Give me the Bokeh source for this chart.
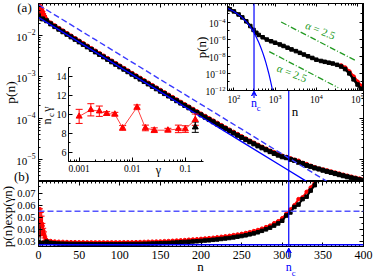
import math
from bokeh.plotting import figure
from bokeh.models import (Range1d, LinearAxis, LogAxis, SingleIntervalTicker, FixedTicker,
                          LogTicker, Span, Label, Arrow, VeeHead, Whisker, TeeHead,
                          ColumnDataSource, GridBox, PrintfTickFormatter, CustomJSTickFormatter)
from bokeh.embed import file_html
from bokeh.resources import INLINE

# ---------------- data ----------------
gamma = 0.0277          # decay rate of the fit
n_c = 308               # crossover size
plateau = 0.0275        # amplitude of the exponential fit

n_black = list(range(0, 401, 5))
pexp_black = [0.0295, 0.0290, 0.0300, 0.0290, 0.0286, 0.0284, 0.0283, 0.0282, 0.0281, 0.0281,
              0.0280, 0.0280, 0.0280, 0.0279, 0.0279, 0.0279, 0.0279, 0.0279, 0.0279, 0.0279,
              0.0279, 0.0280, 0.0280, 0.0280, 0.0281, 0.0281, 0.0282, 0.0283, 0.0284, 0.0285,
              0.0286, 0.0288, 0.0289, 0.0291, 0.0293, 0.0295, 0.0297, 0.0299, 0.0301, 0.0303,
              0.0306, 0.0309, 0.0311, 0.0315, 0.0318, 0.0322, 0.0326, 0.0330, 0.0335, 0.0341,
              0.0346, 0.0352, 0.0360, 0.0368, 0.0377, 0.0389, 0.0401, 0.0415, 0.0432, 0.0450,
              0.0472, 0.0515, 0.0540, 0.0585, 0.0605, 0.0650, 0.0670, 0.0720, 0.0765, 0.0830,
              0.0890, 0.0960, 0.1040, 0.1120, 0.1210, 0.1310, 0.1420, 0.1540, 0.1680, 0.1830,
              0.2000]

n_red = [1, 2, 3, 4, 5, 6, 7, 8, 9, 10] + list(range(15, 401, 5))
pexp_red = [0.0460, 0.0470, 0.0460, 0.0450, 0.0430, 0.0390, 0.0360, 0.0340, 0.0320, 0.0310,
            0.0305, 0.0301, 0.0299, 0.0298, 0.0297, 0.0296, 0.0296, 0.0295, 0.0295, 0.0294,
            0.0294, 0.0294, 0.0294, 0.0294, 0.0294, 0.0294, 0.0294, 0.0294, 0.0295, 0.0295,
            0.0295, 0.0296, 0.0297, 0.0298, 0.0299, 0.0300, 0.0301, 0.0302, 0.0304, 0.0305,
            0.0307, 0.0309, 0.0311, 0.0313, 0.0316, 0.0318, 0.0320, 0.0323, 0.0326, 0.0329,
            0.0332, 0.0336, 0.0340, 0.0344, 0.0348, 0.0354, 0.0359, 0.0364, 0.0371, 0.0378,
            0.0387, 0.0396, 0.0407, 0.0420, 0.0432, 0.0452, 0.0468, 0.0493, 0.0530, 0.0565,
            0.0600, 0.0650, 0.0665, 0.0710, 0.0745, 0.0790, 0.0840, 0.0920, 0.1000, 0.1080,
            0.1170, 0.1270, 0.1370, 0.1490, 0.1620, 0.1760, 0.1920, 0.2100]
err_red = [0.012, 0.010, 0.011, 0.009, 0.008, 0.006, 0.005, 0.004]   # first 8 red points
err_black_n = [2, 11]
err_black_c = [0.0360, 0.0297]
err_black = [0.0110, 0.0015]

fit_n = [0, 70, 100, 150, 200, 250, 300, 350, 400, 450, 500, 550, 600, 650, 700, 750, 800, 850, 900]
fit_p = [2.75e-2, 3.96e-3, 1.72e-3, 4.31e-4, 1.08e-4, 2.70e-5, 6.76e-6, 1.69e-6, 4.24e-7, 1.06e-7,
         2.65e-8, 6.65e-9, 1.66e-9, 4.2e-10, 1.04e-10, 2.6e-11, 6.5e-12, 1.64e-12, 4.1e-13]

ins_n = [70, 80, 100, 130, 160, 200, 250, 300, 350, 400, 500, 630, 800, 1000, 1300, 1600, 2000,
         2500, 3200, 4000, 5000, 6300, 8000, 10000, 13000, 16000, 20000, 25000, 32000, 40000,
         50000, 63000, 80000, 100000, 120000]
ins_logp = [-2.40, -2.52, -2.76, -3.12, -3.46, -3.92, -4.47, -4.93, -5.26, -5.51, -5.78, -6.05,
            -6.25, -6.42, -6.62, -6.80, -7.00, -7.20, -7.40, -7.60, -7.80, -8.00, -8.20, -8.40,
            -8.55, -8.65, -8.75, -8.85, -9.00, -9.20, -9.50, -10.0, -10.7, -11.3, -11.8]
ins_red_n = [40000, 50000, 63000, 80000, 100000, 125000]
ins_red_p = [7.9e-10, 4.5e-10, 1.6e-10, 4.0e-11, 1.0e-11, 3.2e-12]

alpha_up_n = [1.4e3, 9.5e4]
alpha_up_p = [1.0e-4, 2.7e-9]
alpha_lo_n = [7.2e2, 3.4e4]
alpha_lo_p = [3.5e-8, 2.1e-12]

gam = [0.001, 0.00166, 0.0024, 0.0033, 0.0047, 0.0066, 0.0123, 0.0177, 0.026, 0.047, 0.074, 0.1, 0.154]
ncg = [9.8, 10.5, 10.35, 10.1, 10.03, 8.57, 10.77, 8.57, 8.33, 8.33, 8.47, 8.45, 9.45]
ncg_err = [0.75, 0.65, 0.55, 0.2, 0.2, 0.25, 0.25, 0.3, 0.25, 0.2, 0.4, 0.35, 0.6]
gam_black = [0.154]
ncg_black = [8.65]
ncg_black_err = [0.55]

# ---------------- styling / layout constants ----------------
FONT = "Liberation Serif"
BLUE = "#0000ff"
DBLUE = "#3a3aff"
RED = "#ff0000"
GREEN = "#229a22"
W, H = 374, 278
X_L, X_R = 38, 363           # main frame left / right
Y_T, Y_M, Y_B = 3, 181, 246  # main top, panel split, bottom

blank = CustomJSTickFormatter(code="return ''")


def sty(ax, fs="11px", standoff=2, show=True, tin=4, tmin=2):
    ax.axis_line_color = "black"
    ax.axis_line_width = 1
    ax.major_tick_in = tin
    ax.major_tick_out = 0
    ax.minor_tick_in = tmin
    ax.minor_tick_out = 0
    ax.major_tick_line_color = "black"
    ax.minor_tick_line_color = "black"
    ax.major_label_text_font = FONT
    ax.major_label_text_color = "black"
    if show:
        ax.major_label_text_font_size = fs
        ax.major_label_standoff = standoff
    else:
        ax.formatter = blank
        ax.major_label_text_font_size = "0px"
        ax.major_label_standoff = 0


def fig(w, h, xr, yr, xt, yt, top, right, bottom, left, bg="white", border="white",
        outline="black", xloc="below", yloc="left"):
    p = figure(width=w, height=h, x_range=xr, y_range=yr, x_axis_type=xt, y_axis_type=yt,
               output_backend="svg", toolbar_location=None,
               x_axis_location=xloc, y_axis_location=yloc,
               min_border_top=top, min_border_right=right,
               min_border_bottom=bottom, min_border_left=left)
    p.frame_align = False
    p.xgrid.visible = False
    p.ygrid.visible = False
    p.background_fill_color = bg
    p.border_fill_color = border
    p.outline_line_color = outline
    p.outline_line_width = 1
    return p


black_p = [v * math.exp(-gamma * n) for n, v in zip(n_black, pexp_black)]
red_p = [v * math.exp(-gamma * n) for n, v in zip(n_red, pexp_red)]
dash_p = [2 * v for v in fit_p]

# ---------------- (a) main panel ----------------
p1 = fig(W, Y_M, Range1d(0, 400), Range1d(2.93e-6, 5.96e-2), "linear", "log",
         Y_T, W - X_R, 0, X_L, xloc=None)
p1.yaxis[0].ticker = LogTicker(num_minor_ticks=10)
sty(p1.yaxis[0], fs="11px", standoff=3)
ax = LinearAxis(ticker=SingleIntervalTicker(interval=50, num_minor_ticks=10))
sty(ax, show=False)
p1.add_layout(ax, "above")
ax = LogAxis(ticker=LogTicker(num_minor_ticks=10))
sty(ax, show=False)
p1.add_layout(ax, "right")

src_er = ColumnDataSource(dict(
    x=n_red[:8],
    lo=[(pexp_red[i] - err_red[i]) * math.exp(-gamma * n_red[i]) for i in range(8)],
    hi=[(pexp_red[i] + err_red[i]) * math.exp(-gamma * n_red[i]) for i in range(8)]))
p1.add_layout(Whisker(source=src_er, base="x", lower="lo", upper="hi", line_color=RED,
                      line_width=1, upper_head=TeeHead(size=4, line_color=RED),
                      lower_head=TeeHead(size=4, line_color=RED)))
src_eb = ColumnDataSource(dict(
    x=err_black_n,
    lo=[(c - e) * math.exp(-gamma * n) for n, c, e in zip(err_black_n, err_black_c, err_black)],
    hi=[(c + e) * math.exp(-gamma * n) for n, c, e in zip(err_black_n, err_black_c, err_black)]))
p1.add_layout(Whisker(source=src_eb, base="x", lower="lo", upper="hi", line_color="black",
                      line_width=1, upper_head=TeeHead(size=4, line_color="black"),
                      lower_head=TeeHead(size=4, line_color="black")))
p1.line(n_red, red_p, line_color=RED, line_width=3)
p1.scatter(n_red, red_p, marker="circle", size=4, color=RED)
p1.line(n_black, black_p, line_color="black", line_width=3)
p1.scatter(n_black, black_p, marker="square", size=4, color="black")
p1.line(fit_n, fit_p, line_color=BLUE, line_width=1.4)
p1.line(fit_n, dash_p, line_color=DBLUE, line_width=1.4, line_dash="6 3")
p1.add_layout(Span(location=n_c, dimension="height", line_color=BLUE, line_width=1.2))

# ---------------- (b) bottom panel ----------------
p2 = fig(W, H - Y_M, p1.x_range, Range1d(0.026, 0.0795), "linear", "linear",
         0, W - X_R, H - Y_B, X_L)
p2.xaxis[0].ticker = SingleIntervalTicker(interval=50, num_minor_ticks=10)
sty(p2.xaxis[0], fs="12px", standoff=4)
p2.yaxis[0].ticker = SingleIntervalTicker(interval=0.01, num_minor_ticks=2)
sty(p2.yaxis[0], fs="10.5px", standoff=3)
ax = LinearAxis(ticker=SingleIntervalTicker(interval=50, num_minor_ticks=10))
sty(ax, show=False)
p2.add_layout(ax, "above")
ax = LinearAxis(ticker=SingleIntervalTicker(interval=0.01, num_minor_ticks=2))
sty(ax, show=False)
p2.add_layout(ax, "right")

src_er2 = ColumnDataSource(dict(x=n_red[:8],
                                lo=[pexp_red[i] - err_red[i] for i in range(8)],
                                hi=[pexp_red[i] + err_red[i] for i in range(8)]))
p2.add_layout(Whisker(source=src_er2, base="x", lower="lo", upper="hi", line_color=RED,
                      line_width=1, upper_head=TeeHead(size=4, line_color=RED),
                      lower_head=TeeHead(size=4, line_color=RED)))
src_eb2 = ColumnDataSource(dict(x=err_black_n,
                                lo=[c - e for c, e in zip(err_black_c, err_black)],
                                hi=[c + e for c, e in zip(err_black_c, err_black)]))
p2.add_layout(Whisker(source=src_eb2, base="x", lower="lo", upper="hi", line_color="black",
                      line_width=1, upper_head=TeeHead(size=4, line_color="black"),
                      lower_head=TeeHead(size=4, line_color="black")))
p2.line(n_red, pexp_red, line_color=RED, line_width=2)
p2.scatter(n_red, pexp_red, marker="circle", size=3.5, color=RED)
p2.line(n_black, pexp_black, line_color="black", line_width=2)
p2.scatter(n_black, pexp_black, marker="square", size=3.5, color="black")
p2.add_layout(Span(location=plateau, dimension="width", line_color=BLUE, line_width=1.4))
p2.add_layout(Span(location=2 * plateau, dimension="width", line_color="#5555ff",
                   line_width=1.6, line_dash="6 3"))
p2.add_layout(Span(location=n_c, dimension="height", line_color=BLUE, line_width=1.2))

# ---------------- inset: p(n) log-log ----------------
I_L, I_R, I_T, I_B = 227, 362, 3, 90
p4 = fig(I_R + 2 - 195, 116, Range1d(70, 1.32e5), Range1d(1e-12, 1.45e-2), "log", "log",
         I_T, 2, 116 - I_B, I_L - 195, bg="white", border=None)
p4.xaxis[0].ticker = LogTicker(num_minor_ticks=10)
sty(p4.xaxis[0], fs="9.5px", standoff=3, tin=3, tmin=2)
p4.yaxis[0].ticker = FixedTicker(ticks=[1e-12, 1e-10, 1e-8, 1e-6, 1e-4],
                                 minor_ticks=[1e-11, 1e-9, 1e-7, 1e-5, 1e-3])
sty(p4.yaxis[0], fs="9.5px", standoff=2, tin=3, tmin=2)
ax = LogAxis(ticker=LogTicker(num_minor_ticks=10))
sty(ax, show=False, tin=3, tmin=2)
p4.add_layout(ax, "above")
ax = LogAxis(ticker=FixedTicker(ticks=[1e-12, 1e-10, 1e-8, 1e-6, 1e-4],
                                minor_ticks=[1e-11, 1e-9, 1e-7, 1e-5, 1e-3]))
sty(ax, show=False, tin=3, tmin=2)
p4.add_layout(ax, "right")

ins_p = [10 ** v for v in ins_logp]
p4.line(ins_red_n, ins_red_p, line_color=RED, line_width=3)
p4.scatter(ins_red_n, ins_red_p, marker="circle", size=4, color=RED)
p4.line(ins_n, ins_p, line_color="black", line_width=2.5)
p4.scatter(ins_n, ins_p, marker="square", size=3.5, color="black")
p4.line(fit_n[1:], fit_p[1:], line_color=BLUE, line_width=1.2)
p4.line(alpha_up_n, alpha_up_p, line_color=GREEN, line_width=1.3, line_dash="6 2 1 2")
p4.line(alpha_lo_n, alpha_lo_p, line_color=GREEN, line_width=1.3, line_dash="6 2 1 2")
p4.add_layout(Span(location=n_c, dimension="height", line_color=BLUE, line_width=1.2))
for lx, ly in [(10 ** 4.1, 10 ** -4.96), (10 ** 3.41, 10 ** -9.97)]:
    p4.add_layout(Label(x=lx, y=ly, text="\u03b1 = 2.5", angle=-0.38, text_font=FONT,
                        text_font_size="11px", text_color=GREEN, text_align="center",
                        text_baseline="middle"))

# ---------------- inset: n_c * gamma ----------------
p3 = fig(165, 117, Range1d(6.3e-4, 0.22), Range1d(5, 15), "log", "linear", 5, 2, 18, 28,
         bg=None, border=None, outline=None)
p3.xaxis[0].ticker = FixedTicker(ticks=[0.001, 0.01, 0.1],
                                 minor_ticks=[7e-4, 8e-4, 9e-4, 2e-3, 3e-3, 4e-3, 5e-3, 6e-3, 7e-3,
                                              8e-3, 9e-3, 2e-2, 3e-2, 4e-2, 5e-2, 6e-2, 7e-2,
                                              8e-2, 9e-2, 0.2])
p3.xaxis[0].formatter = PrintfTickFormatter(format="%g")
sty(p3.xaxis[0], fs="9.5px", standoff=3, tin=4, tmin=2)
p3.yaxis[0].ticker = SingleIntervalTicker(interval=2, num_minor_ticks=2)
sty(p3.yaxis[0], fs="10px", standoff=2, tin=4, tmin=2)

src_g = ColumnDataSource(dict(x=gam, lo=[a - b for a, b in zip(ncg, ncg_err)],
                              hi=[a + b for a, b in zip(ncg, ncg_err)]))
p3.add_layout(Whisker(source=src_g, base="x", lower="lo", upper="hi", line_color=RED,
                      line_width=1, upper_head=TeeHead(size=7, line_color=RED, line_width=1),
                      lower_head=TeeHead(size=7, line_color=RED, line_width=1)))
src_gb = ColumnDataSource(dict(x=gam_black, lo=[a - b for a, b in zip(ncg_black, ncg_black_err)],
                               hi=[a + b for a, b in zip(ncg_black, ncg_black_err)]))
p3.add_layout(Whisker(source=src_gb, base="x", lower="lo", upper="hi", line_color="black",
                      line_width=1, upper_head=TeeHead(size=7, line_color="black", line_width=1),
                      lower_head=TeeHead(size=7, line_color="black", line_width=1)))
p3.scatter(gam_black, ncg_black, marker="triangle", size=6, color="black")
p3.line(gam, ncg, line_color="#ff4040", line_width=1)
p3.scatter(gam, ncg, marker="triangle", size=6, color=RED)

# ---------------- transparent overlay under the inset (n_c marker of the inset) ----------------
p5 = figure(width=I_R - I_L, height=116 - I_B, x_range=p4.x_range, y_range=Range1d(116, I_B),
            x_axis_type="log", y_axis_type="linear", x_axis_location=None, y_axis_location=None,
            output_backend="svg", toolbar_location=None, min_border=0,
            background_fill_color=None, border_fill_color=None, outline_line_color=None)
p5.frame_align = False
p5.xgrid.visible = False
p5.ygrid.visible = False
p5.add_layout(Arrow(x_start=n_c, y_start=97.5, x_end=n_c, y_end=90.5, line_color=BLUE,
                    line_width=1.2, end=VeeHead(size=5, line_color=BLUE, fill_color=BLUE,
                                                line_width=1)))
p5.add_layout(Label(x=n_c, y=102, text="n", text_font=FONT, text_font_size="12px",
                    text_color=BLUE, text_align="center", text_baseline="middle"))
p5.add_layout(Label(x=n_c, y=107.5, x_offset=4.5, text="c", text_font=FONT,
                    text_font_size="8.5px", text_color=BLUE, text_align="center",
                    text_baseline="middle"))

# ---------------- transparent full-page overlay for the texts ----------------
sc = (X_R - X_L) / 400.0
p0 = figure(width=W, height=H, x_range=Range1d(-X_L / sc, (W - X_L) / sc), y_range=Range1d(H, 0),
            x_axis_location=None, y_axis_location=None, output_backend="svg",
            toolbar_location=None, min_border=0,
            background_fill_color=None, border_fill_color=None, outline_line_color=None)
p0.frame_align = False
p0.xgrid.visible = False
p0.ygrid.visible = False


def txt(X, Y, text, fs="12px", color="black", angle=0.0, xoff=0):
    p0.add_layout(Label(x=X, y=H - Y, x_units="screen", y_units="screen", text=text,
                        angle=angle, text_font=FONT, text_font_size=fs, text_color=color,
                        text_align="center", text_baseline="middle", x_offset=xoff))


txt(24, 6.5, "(a)", fs="13px")
txt(21, 176, "(b)", fs="13px")
txt(10, 92, "p(n)", fs="13.5px", angle=math.pi / 2)
txt(7, 216, "p(n)exp(\u03b3n)", fs="13px", angle=math.pi / 2)
txt(200, 266, "n", fs="13px")
txt(201, 47, "p(n)", fs="13px", angle=math.pi / 2)
txt(294.5, 110.5, "n", fs="13px")
txt(158, 169.5, "\u03b3", fs="12px")
txt(46.5, 121, "n", fs="12px", angle=math.pi / 2)
txt(50, 114.5, "c", fs="8.5px", angle=math.pi / 2)
txt(46.5, 108.5, "\u03b3", fs="12px", angle=math.pi / 2)
p0.add_layout(Arrow(x_start=n_c, y_start=257, x_end=n_c, y_end=247.5, line_color=BLUE,
                    line_width=1.2, end=VeeHead(size=5, line_color=BLUE, fill_color=BLUE,
                                                line_width=1)))
for t, yy, fs, xo in [("n", 266.5, "12px", 0), ("c", 272.5, "8.5px", 5)]:
    p0.add_layout(Label(x=n_c, y=H - yy, x_units="data", y_units="screen", text=t,
                        text_font=FONT, text_font_size=fs, text_color=BLUE,
                        text_align="center", text_baseline="middle", x_offset=xo))

# ---------------- layout (insets and overlays share one grid cell) ----------------
p1.margin = (0, 0, 0, 0)
p2.margin = (Y_M, 0, 0, 0)
p3.margin = (62, 0, 0, 40)
p4.margin = (0, 0, 0, 195)
p5.margin = (I_B, 0, 0, I_L)
p0.margin = (0, 0, 0, 0)
layout = GridBox(children=[(p1, 0, 0), (p2, 0, 0), (p3, 0, 0), (p4, 0, 0), (p5, 0, 0),
                           (p0, 0, 0)])

open("out.html", "w").write(file_html(layout, INLINE))
